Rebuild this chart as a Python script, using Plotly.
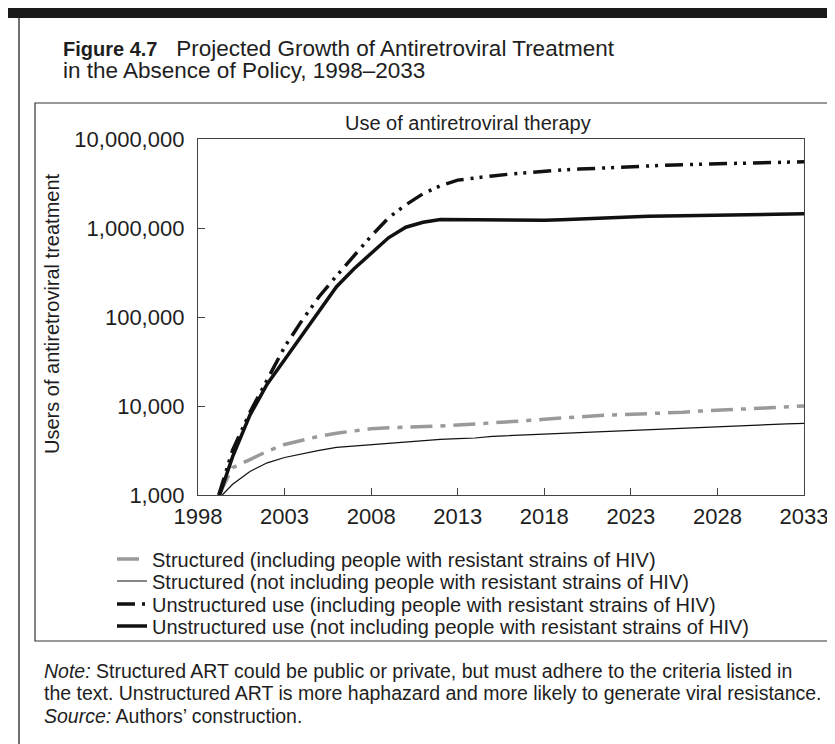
import plotly.graph_objects as go

# ---------------- data ----------------
years = list(range(2000, 2034))

struct_incl_start = [1999.2]
struct_incl_start_val = [1000]
struct_incl = [2030, 2500, 3100, 3700, 4150, 4570, 4950, 5300, 5550, 5700,
               5750, 5780, 5950, 6100, 6250, 6420, 6620, 6850, 7100, 7370,
               7600, 7780, 7940, 8060, 8180, 8300, 8500, 8780, 9030, 9180,
               9350, 9550, 9800, 10000]

struct_notincl_start = [1999.4]
struct_notincl_start_val = [1000]
struct_notincl = [1320, 1840, 2300, 2640, 2920, 3170, 3420, 3550, 3680, 3820,
                  3980, 4080, 4220, 4290, 4370, 4560, 4650, 4720, 4850, 4990,
                  5070, 5150, 5270, 5350, 5450, 5550, 5650, 5790, 5900, 6050,
                  6150, 6230, 6300, 6370]

unstruct_incl_start = [1999.2]
unstruct_incl_start_val = [1000]
unstruct_incl = [3200, 8500, 20000, 46000, 91000, 170000, 290000, 490000,
                 810000, 1300000, 1820000, 2430000, 2985000, 3450000, 3670000,
                 3850000, 4030000, 4190000, 4335000, 4480000, 4590000, 4700000,
                 4800000, 4900000, 4990000, 5070000, 5150000, 5220000, 5300000,
                 5360000, 5420000, 5470000, 5510000, 5550000]

unstruct_notincl_start = [1999.25]
unstruct_notincl_start_val = [1000]
unstruct_notincl = [2700, 7900, 17700, 33000, 62000, 115000, 219000, 347000,
                    525000, 776000, 1020000, 1160000, 1245000, 1240000, 1225000,
                    1210000, 1208000, 1210000, 1222000, 1240000, 1265000, 1290000,
                    1318000, 1340000, 1355000, 1368000, 1380000, 1390000, 1400000,
                    1409000, 1416000, 1426000, 1435000, 1445000]

series_names = [
    "Structured (including people with resistant strains of HIV)",
    "Structured (not including people with resistant strains of HIV)",
    "Unstructured use (including people with resistant strains of HIV)",
    "Unstructured use (not including people with resistant strains of HIV)",
]

x_tick_vals = [1998, 2003, 2008, 2013, 2018, 2023, 2028, 2033]
y_tick_vals = [1000, 10000, 100000, 1000000, 10000000]
y_tick_text = ["1,000", "10,000", "100,000", "1,000,000", "10,000,000"]

title_bold = "Figure 4.7"
title_rest = "Projected Growth of Antiretroviral Treatment"
title_line2 = "in the Absence of Policy, 1998–2033"
chart_title = "Use of antiretroviral therapy"
y_title = "Users of antiretroviral treatment"
note_lines = [
    "<i>Note:</i> Structured ART could be public or private, but must adhere to the criteria listed in",
    "the text. Unstructured ART is more haphazard and more likely to generate viral resistance.",
    "<i>Source:</i> Authors’ construction.",
]

# ---------------- layout geometry (pixels) ----------------
W, H = 835, 744
L, R, T, B = 190, 39, 131, 257
PW, PH = W - L - R, H - T - B


def xp(px):
    return (px - L) / PW


def yp(py):
    return (H - B - py) / PH


FONT = "Liberation Sans, Arial, sans-serif"
TXT = "#1e1e1e"

fig = go.Figure()

styles = [
    dict(color="#9a9a9a", width=3.5, dash="22px,8px,5px,8px"),
    dict(color="#111111", width=1.2),
    dict(color="#111111", width=3.5, dash="18px,7px,3px,6px,3px,7px"),
    dict(color="#111111", width=3.5),
]
xs = [struct_incl_start + years, struct_notincl_start + years,
      unstruct_incl_start + years, unstruct_notincl_start + years]
ys = [struct_incl_start_val + struct_incl, struct_notincl_start_val + struct_notincl,
      unstruct_incl_start_val + unstruct_incl, unstruct_notincl_start_val + unstruct_notincl]
legend_ids = ["legend", "legend2", "legend3", "legend4"]

for name, x, y, st, lg in zip(series_names, xs, ys, styles, legend_ids):
    fig.add_trace(go.Scatter(x=x, y=y, mode="lines", name=name, line=st, legend=lg))

axis_common = dict(showgrid=False, zeroline=False, showline=True, linecolor="#444444",
                   linewidth=1.3, mirror=True, ticks="inside", ticklen=7,
                   tickcolor="#444444", tickwidth=1.3,
                   tickfont=dict(family=FONT, size=22, color=TXT))

fig.update_xaxes(range=[1998, 2033], tickvals=x_tick_vals, ticklabelstandoff=1,
                 **axis_common)
fig.update_yaxes(type="log", range=[3, 7], tickvals=y_tick_vals, ticktext=y_tick_text,
                 ticklabelstandoff=8, **axis_common)

P = dict(xref="paper", yref="paper")
shapes = [
    # top black bar
    dict(type="rect", x0=xp(0), x1=xp(W), y0=yp(0), y1=yp(10), fillcolor="#1a1a1a",
         line=dict(width=0), **P),
    # outer left rule
    dict(type="line", x0=xp(11), x1=xp(11), y0=yp(10), y1=yp(H),
         line=dict(color="#222", width=1.3), **P),
    # inner chart box
    dict(type="rect", x0=xp(27), x1=xp(825), y0=yp(95), y1=yp(633),
         line=dict(color="#333", width=1.2), **P),
]

annotations = [
    dict(text=f"<b><span style='font-size:20px'>{title_bold}</span></b>&nbsp;&nbsp;&nbsp;{title_rest}",
         x=xp(53), y=yp(40), xanchor="left", yanchor="middle", showarrow=False,
         font=dict(family=FONT, size=22.5, color=TXT), **P),
    dict(text=title_line2, x=xp(53), y=yp(63), xanchor="left", yanchor="middle",
         showarrow=False, font=dict(family=FONT, size=22.5, color=TXT), **P),
    dict(text=chart_title, x=xp(460), y=yp(115), xanchor="center", yanchor="middle",
         showarrow=False, font=dict(family=FONT, size=20, color=TXT), **P),
    dict(text=y_title, x=xp(44), y=yp(306), textangle=-90, xanchor="center",
         yanchor="middle", showarrow=False, font=dict(family=FONT, size=20, color=TXT), **P),
]
for i, line in enumerate(note_lines):
    annotations.append(dict(text=line, x=xp(34), y=yp(663 + 22.5 * i), xanchor="left",
                            yanchor="middle", showarrow=False,
                            font=dict(family=FONT, size=19.5, color=TXT), **P))

legend_rows = [551, 573, 596, 618]
legend_common = dict(xanchor="left", yanchor="middle", bgcolor="rgba(0,0,0,0)",
                     borderwidth=0, font=dict(family=FONT, size=20, color=TXT),
                     itemwidth=30)
legend_layout = {}
for lg, row in zip(legend_ids, legend_rows):
    legend_layout[lg] = dict(x=xp(104), y=yp(row), **legend_common)

fig.update_layout(
    width=W, height=H, margin=dict(l=L, r=R, t=T, b=B, autoexpand=False),
    paper_bgcolor="white", plot_bgcolor="white",
    shapes=shapes, annotations=annotations,
    showlegend=True,
    **legend_layout,
)

fig.write_html("out.html")
